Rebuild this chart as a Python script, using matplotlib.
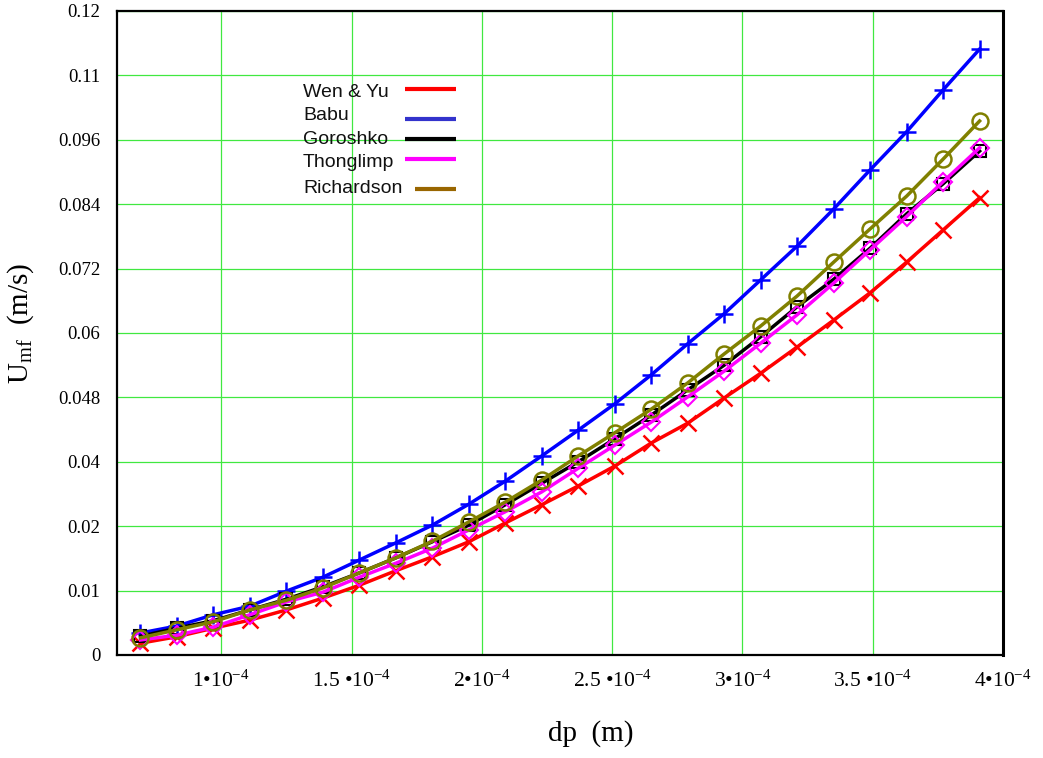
import matplotlib.pyplot as plt

plt.rcParams['font.family'] = ['Liberation Serif', 'DejaVu Serif']
plt.rcParams['mathtext.fontset'] = 'custom'
plt.rcParams['mathtext.rm'] = 'Liberation Serif'
plt.rcParams['mathtext.it'] = 'Liberation Serif:italic'

# particle diameter (m)
dp = [6.9e-5, 8.3e-5, 9.7e-5, 1.11e-4, 1.25e-4, 1.39e-4, 1.53e-4, 1.67e-4,
      1.81e-4, 1.95e-4, 2.09e-4, 2.23e-4, 2.37e-4, 2.51e-4, 2.65e-4, 2.79e-4,
      2.93e-4, 3.07e-4, 3.21e-4, 3.35e-4, 3.49e-4, 3.63e-4, 3.77e-4, 3.91e-4]

# minimum fluidisation velocity (m/s) for each correlation
umf_wen_yu = [0.0022, 0.0034, 0.0050, 0.0065, 0.0084, 0.0106, 0.0130, 0.0157,
              0.0183, 0.0211, 0.0246, 0.0280, 0.0315, 0.0352, 0.0395, 0.0432,
              0.0479, 0.0525, 0.0574, 0.0624, 0.0675, 0.0732, 0.0792, 0.0852]
umf_babu = [0.0041, 0.0054, 0.0075, 0.0091, 0.0119, 0.0145, 0.0177, 0.0209,
            0.0242, 0.0281, 0.0324, 0.0371, 0.0419, 0.0468, 0.0522, 0.0580,
            0.0636, 0.0699, 0.0762, 0.0831, 0.0904, 0.0975, 0.1053, 0.1129]
umf_goroshko = [0.0035, 0.0050, 0.0064, 0.0084, 0.0104, 0.0127, 0.0153, 0.0181,
                0.0211, 0.0242, 0.0280, 0.0320, 0.0360, 0.0403, 0.0447, 0.0494,
                0.0540, 0.0593, 0.0649, 0.0700, 0.0758, 0.0822, 0.0878, 0.0939]
umf_thonglimp = [0.0028, 0.0037, 0.0052, 0.0075, 0.0099, 0.0117, 0.0145, 0.0171,
                 0.0199, 0.0233, 0.0267, 0.0304, 0.0348, 0.0391, 0.0434, 0.0481,
                 0.0529, 0.0581, 0.0634, 0.0693, 0.0755, 0.0817, 0.0882, 0.0945]
umf_richardson = [0.0032, 0.0047, 0.0062, 0.0084, 0.0102, 0.0125, 0.0153, 0.0181,
                  0.0212, 0.0248, 0.0285, 0.0326, 0.0371, 0.0414, 0.0458, 0.0507,
                  0.0561, 0.0613, 0.0669, 0.0732, 0.0794, 0.0855, 0.0924, 0.0995]

xtick_vals = [1e-4, 1.5e-4, 2e-4, 2.5e-4, 3e-4, 3.5e-4, 4e-4]
xtick_labels = [r'$\mathregular{1•10^{-4}}$', r'$\mathregular{1.5\ •10^{-4}}$',
                r'$\mathregular{2•10^{-4}}$', r'$\mathregular{2.5\ •10^{-4}}$',
                r'$\mathregular{3•10^{-4}}$', r'$\mathregular{3.5\ •10^{-4}}$',
                r'$\mathregular{4•10^{-4}}$']
ytick_vals = [0, 0.012, 0.024, 0.036, 0.048, 0.06, 0.072, 0.084, 0.096, 0.108, 0.12]
ytick_labels = ['0', '0.01', '0.02', '0.04', '0.048', '0.06', '0.072', '0.084',
                '0.096', '0.11', '0.12']

legend_names = ['Wen & Yu', 'Babu', 'Goroshko', 'Thonglimp', 'Richardson']
legend_colors = ['#ff0000', '#3333cc', '#000000', '#ff00ff', '#996600']

fig = plt.figure(figsize=(10.43, 7.58), dpi=100)
ax = fig.add_axes([0.1122, 0.1359, 0.8495, 0.8496])

ax.plot(dp, umf_wen_yu, color='#ff0000', lw=2.5, marker='x', ms=12, mew=1.8)
ax.plot(dp, umf_babu, color='#0000ff', lw=2.5, marker='+', ms=13, mew=1.8)
ax.plot(dp, umf_goroshko, color='#000000', lw=2.5, marker='s', ms=9, mew=1.5,
        mfc='none')
ax.plot(dp, umf_thonglimp, color='#ff00ff', lw=2.5, marker='D', ms=9, mew=1.5,
        mfc='none')
ax.plot(dp, umf_richardson, color='#808000', lw=2.5, marker='o', ms=11.5, mew=1.8,
        mfc='none')

ax.set_xlim(0.6e-4, 4e-4)
ax.set_ylim(0, 0.12)
ax.set_xticks(xtick_vals)
ax.set_xticklabels(xtick_labels, fontsize=15.5)
ax.set_yticks(ytick_vals)
ax.set_yticklabels(ytick_labels, fontsize=13.5)
ax.tick_params(axis='x', length=0, pad=11)
ax.tick_params(axis='y', length=0, pad=12)
ax.grid(True, color='#40e840', lw=0.9)
ax.set_axisbelow(True)
for s in ax.spines.values():
    s.set_linewidth(1.6)
ax.spines['right'].set_linewidth(2.2)

ax.set_xlabel('dp  (m)', fontsize=21)
ax.xaxis.set_label_coords(0.535, -0.101)
ax.xaxis.label.set_va('top')
ax.set_ylabel(r'$\mathregular{U_{mf}}$  (m/s)', fontsize=21)
ax.yaxis.set_label_coords(-0.092, 0.515)

# legend: names on the left, line samples on the right
text_rows = [0.873, 0.837, 0.801, 0.764, 0.725]
line_rows = [0.879, 0.832, 0.801, 0.770, 0.724]
for i, (name, col) in enumerate(zip(legend_names, legend_colors)):
    ax.text(0.21, text_rows[i], name, transform=ax.transAxes, fontsize=14,
            family='Liberation Sans', va='center', ha='left', color='#111111')
    x0 = 0.3363 if name == 'Richardson' else 0.325
    ax.plot([x0, 0.383], [line_rows[i], line_rows[i]], transform=ax.transAxes,
            color=col, lw=3, solid_capstyle='butt')

fig.savefig('out.png', dpi=100, facecolor='white')
